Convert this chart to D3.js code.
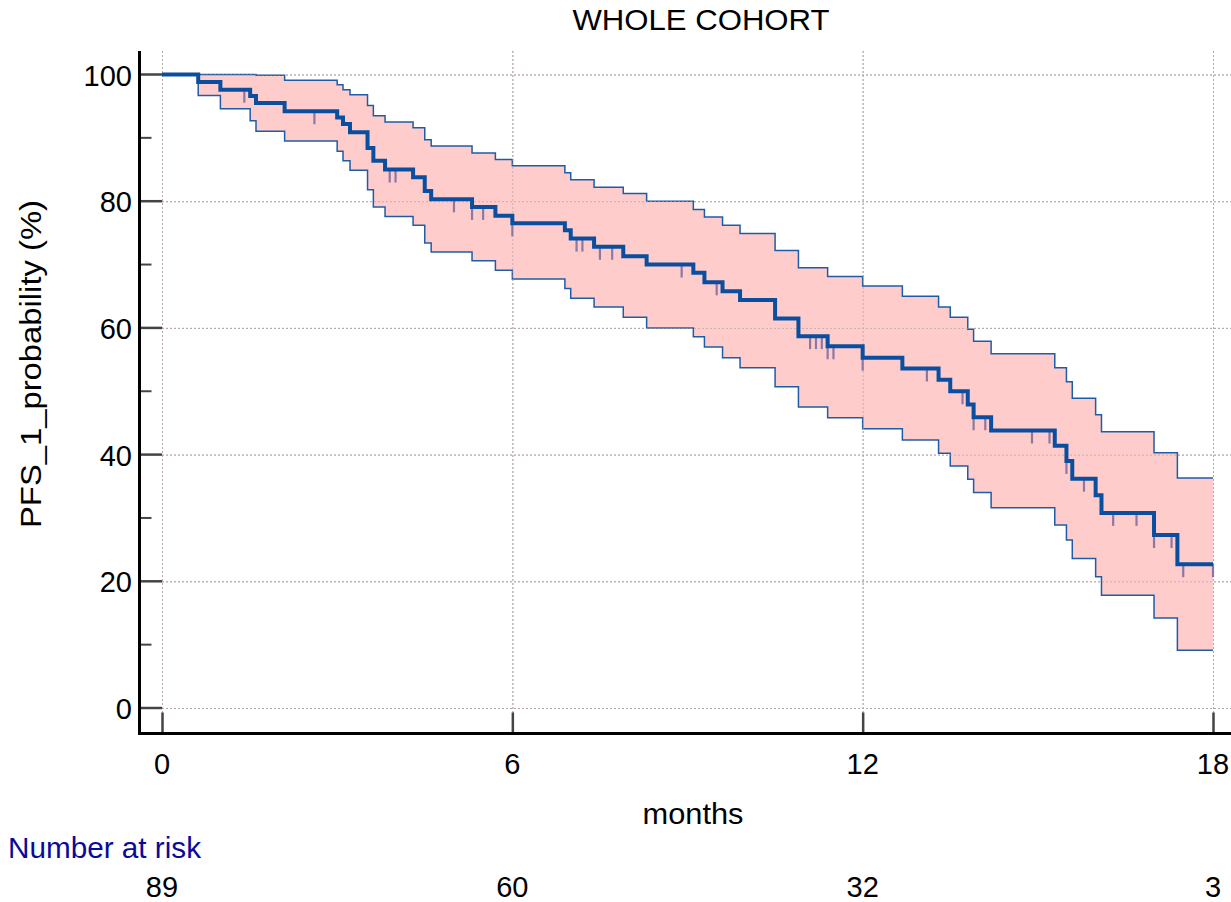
<!DOCTYPE html>
<html><head><meta charset="utf-8">
<script src="https://cdn.jsdelivr.net/npm/d3@7"></script>
<style>body{margin:0;background:#fff;} svg{display:block;font-family:"Liberation Sans",Arial,sans-serif;}</style>
</head><body><svg id="chart" width="1231" height="902"></svg>
<script>
// ---- data ----
const times      = [0, 0.62, 1.0, 1.51, 1.61, 2.1, 3.0, 3.1, 3.22, 3.52, 3.62, 3.82, 4.3, 4.5, 4.61, 5.31, 5.71, 6.0, 6.9, 7.0, 7.4, 7.9, 8.3, 9.1, 9.29, 9.6, 9.9, 10.5, 10.9, 11.4, 12.0, 12.68, 13.3, 13.5, 13.8, 13.9, 14.2, 15.29, 15.49, 15.59, 15.99, 16.09, 16.99, 17.39];
const survival   = [100, 98.8, 97.6, 96.6, 95.5, 94.2, 93.2, 92.2, 90.9, 88.4, 86.4, 85.0, 83.8, 81.6, 80.3, 79.1, 77.7, 76.5, 75.4, 74.1, 72.8, 71.3, 70.0, 68.7, 67.2, 65.8, 64.4, 61.5, 58.7, 57.1, 55.3, 53.6, 51.8, 50.0, 47.9, 45.9, 43.8, 41.4, 39.0, 36.2, 33.6, 30.8, 27.3, 22.7];
const upperCI    = [100, 100, 100, 100, 99.9, 99.1, 98.4, 97.6, 96.8, 95.1, 93.5, 92.5, 91.6, 89.7, 88.7, 87.6, 86.6, 85.6, 84.5, 83.4, 82.2, 81.2, 80.0, 78.7, 77.5, 76.2, 74.9, 72.2, 69.5, 68.1, 66.6, 65.0, 63.3, 61.7, 59.8, 57.9, 55.9, 53.7, 51.5, 48.9, 46.3, 43.6, 40.3, 36.3];
const lowerCI    = [100, 96.7, 94.6, 92.7, 91.05, 89.5, 87.9, 86.4, 84.9, 81.8, 79.1, 77.6, 76.2, 73.4, 72.0, 70.6, 69.1, 67.7, 66.2, 64.7, 63.3, 61.7, 60.0, 58.6, 57.0, 55.3, 53.7, 50.7, 47.5, 45.8, 44.1, 42.3, 40.2, 38.2, 36.1, 34.0, 31.6, 28.9, 26.5, 23.6, 20.7, 17.8, 14.2, 9.1];
const censorTimes = [1.41, 2.61, 3.9, 4.0, 5.0, 5.31, 5.5, 6.0, 7.1, 7.2, 7.5, 7.71, 8.9, 9.5, 11.1, 11.2, 11.3, 11.4, 11.5, 12.0, 13.1, 13.71, 13.9, 14.1, 14.9, 15.2, 15.49, 15.79, 16.29, 16.69, 16.99, 17.29, 17.49, 18.0];
const endTime = 18;
const xTicks = [0, 6, 12, 18];
const yTicks = [0, 20, 40, 60, 80, 100];
const yMinorTicks = [10, 30, 50, 70, 90];
const riskTimes = [0, 6, 12, 18];
const atRisk = [89, 60, 32, 3];
const titleText = "WHOLE COHORT";
const xLabel = "months";
const yLabel = "PFS_1_probability (%)";
const riskLabel = "Number at risk";

// ---- build ----
const svg = d3.select("#chart");
const x = d3.scaleLinear().domain([0, 18]).range([162, 1213]);
const y = d3.scaleLinear().domain([0, 100]).range([708, 74.5]);
const axisX = 139.5, axisY = 733.5, plotTop = 51, plotRight = 1231;
const FS = 29;

const rows = times.map((t, i) => ({t, s: survival[i], u: upperCI[i], l: lowerCI[i]}));
rows.push({t: endTime, s: survival[survival.length-1], u: upperCI[upperCI.length-1], l: lowerCI[lowerCI.length-1]});

// grid
const grid = svg.append("g").attr("stroke", "#b4b4b4").attr("stroke-width", 1).attr("stroke-dasharray", "2,2");
grid.selectAll("line.h").data(yTicks).join("line").attr("class","h")
  .attr("x1", x(0)).attr("x2", plotRight).attr("y1", d => y(d)+0.5).attr("y2", d => y(d)+0.5);
grid.selectAll("line.v").data(xTicks).join("line").attr("class","v")
  .attr("x1", d => x(d)+0.5).attr("x2", d => x(d)+0.5).attr("y1", plotTop).attr("y2", axisY);

// band
const area = d3.area().curve(d3.curveStepAfter).x(d => x(d.t)).y0(d => y(d.l)).y1(d => y(d.u));
svg.append("path").datum(rows).attr("d", area).attr("fill", "#ffcccc");
// CI lines
const lineU = d3.line().curve(d3.curveStepAfter).x(d => x(d.t)).y(d => y(d.u));
const lineL = d3.line().curve(d3.curveStepAfter).x(d => x(d.t)).y(d => y(d.l));
svg.append("path").datum(rows).attr("d", lineU).attr("fill","none").attr("stroke","#1f5ca8").attr("stroke-width",1.5);
svg.append("path").datum(rows).attr("d", lineL).attr("fill","none").attr("stroke","#1f5ca8").attr("stroke-width",1.5);

// grid redrawn faintly over band (dotted lines visible through the fill)
const grid2 = svg.append("g").attr("stroke", "#b4a0a0").attr("stroke-width", 1).attr("stroke-dasharray", "2,2").attr("opacity",0.7);
grid2.selectAll("line.h").data(yTicks).join("line")
  .attr("x1", x(0)).attr("x2", plotRight).attr("y1", d => y(d)+0.5).attr("y2", d => y(d)+0.5);
grid2.selectAll("line.v").data(xTicks).join("line")
  .attr("x1", d => x(d)+0.5).attr("x2", d => x(d)+0.5).attr("y1", plotTop).attr("y2", axisY);

// censor marks
function survAt(t) {
  let v = survival[0];
  for (let i = 0; i < times.length; i++) { if (times[i] <= t + 1e-9) v = survival[i]; }
  return v;
}
svg.append("g").selectAll("line").data(censorTimes).join("line")
  .attr("x1", d => x(d)).attr("x2", d => x(d))
  .attr("y1", d => y(survAt(d))).attr("y2", d => y(survAt(d)) + 13)
  .attr("stroke", "#7a6a9c").attr("stroke-width", 2.2).attr("opacity", 0.85);

// main curve
const lineS = d3.line().curve(d3.curveStepAfter).x(d => x(d.t)).y(d => y(d.s));
svg.append("path").datum(rows).attr("d", lineS).attr("fill","none").attr("stroke","#0a4f9f").attr("stroke-width",4);

// axes
const ax = svg.append("g");
ax.selectAll("line.yt").data(yTicks).join("line")
  .attr("x1", axisX).attr("x2", x(0)).attr("y1", d => y(d)).attr("y2", d => y(d))
  .attr("stroke", "#444").attr("stroke-width", 2.5);
ax.selectAll("line.ym").data(yMinorTicks).join("line")
  .attr("x1", axisX).attr("x2", axisX + 12).attr("y1", d => y(d)).attr("y2", d => y(d))
  .attr("stroke", "#444").attr("stroke-width", 2);
ax.selectAll("line.xt").data(xTicks).join("line")
  .attr("x1", d => x(d)+0.5).attr("x2", d => x(d)+0.5).attr("y1", axisY - 21).attr("y2", axisY)
  .attr("stroke", "#444").attr("stroke-width", 2.5);
ax.append("line").attr("x1", axisX).attr("x2", axisX).attr("y1", plotTop).attr("y2", axisY + 1.5)
  .attr("stroke", "#000").attr("stroke-width", 3);
ax.append("line").attr("x1", axisX - 1.5).attr("x2", plotRight).attr("y1", axisY).attr("y2", axisY)
  .attr("stroke", "#000").attr("stroke-width", 3);

// tick labels
svg.append("g").selectAll("text").data(yTicks).join("text")
  .attr("x", 132).attr("y", d => y(d) + 11).attr("text-anchor", "end")
  .attr("font-size", FS).attr("fill", "#000").text(d => d);
svg.append("g").selectAll("text").data(xTicks).join("text")
  .attr("x", d => x(d)).attr("y", 774).attr("text-anchor", "middle")
  .attr("font-size", FS).attr("fill", "#000").text(d => d);

// titles
svg.append("text").attr("x", 701).attr("y", 30).attr("text-anchor","middle").attr("font-size", 29)
  .attr("textLength", 257).attr("lengthAdjust","spacingAndGlyphs").text(titleText);
svg.append("text").attr("x", 693).attr("y", 824).attr("text-anchor","middle").attr("font-size", FS)
  .attr("textLength", 101).attr("lengthAdjust","spacingAndGlyphs").text(xLabel);
svg.append("text").attr("transform", "translate(41,364) rotate(-90)").attr("text-anchor","middle")
  .attr("font-size", 30).attr("textLength", 328).attr("lengthAdjust","spacingAndGlyphs").text(yLabel);

// number at risk
svg.append("text").attr("x", 8).attr("y", 858).attr("font-size", FS).attr("fill", "#0a0a9a")
  .attr("textLength", 193).attr("lengthAdjust","spacingAndGlyphs").text(riskLabel);
svg.append("g").selectAll("text").data(atRisk).join("text")
  .attr("x", (d, i) => x(riskTimes[i])).attr("y", 897).attr("text-anchor","middle")
  .attr("font-size", FS).attr("fill","#000").text(d => d);
</script></body></html>
